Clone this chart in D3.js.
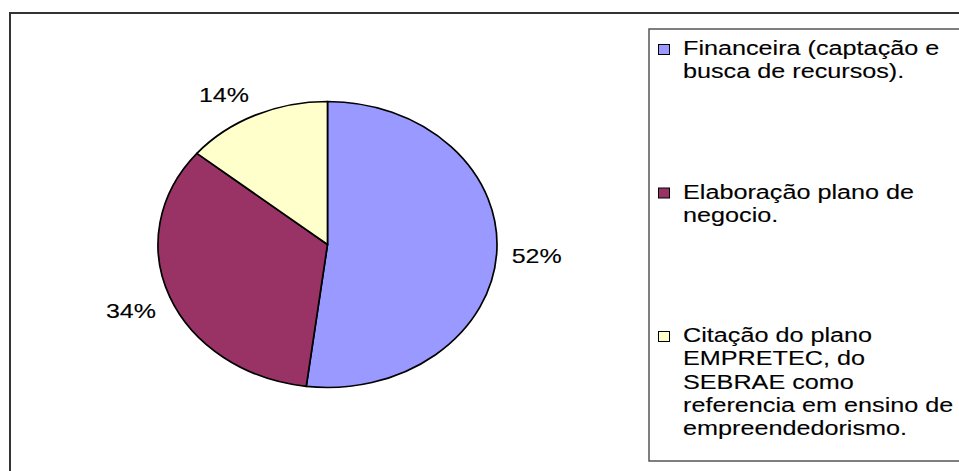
<!DOCTYPE html>
<html>
<head>
<meta charset="utf-8">
<script src="https://cdn.jsdelivr.net/npm/d3@7"></script>
<style>
  html, body { margin: 0; padding: 0; background: #fff; }
  svg { display: block; }
  text { font-family: Arial, "Liberation Sans", sans-serif; fill: #000; stroke: #000; stroke-width: 0.12px; }
</style>
</head>
<body>
<svg id="chart" width="959" height="471"></svg>
<script>
// Shares of each theme (percent)
const categories = [
  "Financeira (captação e busca de recursos).",
  "Elaboração plano de negocio.",
  "Citação do plano EMPRETEC, do SEBRAE como referencia em ensino de empreendedorismo."
];
const values = [52, 34, 14];
const legendLines = [
  ["Financeira (captação e", "busca de recursos)."],
  ["Elaboração plano de", "negocio."],
  ["Citação do plano", "EMPRETEC, do", "SEBRAE como", "referencia em ensino de", "empreendedorismo."]
];
const colors = ["#9999FF", "#993366", "#FFFFCC"];

const W = 959, H = 471;
const svg = d3.select("#chart");

// chart area frame
svg.append("rect")
  .attr("x", 10).attr("y", 13)
  .attr("width", W + 20).attr("height", H + 20)
  .attr("fill", "#fff")
  .attr("stroke", "#333").attr("stroke-width", 2);

// pie drawn as a flattened ellipse
const cx = 327.5, cy = 244.5, rx = 169.5, ry = 143;
const data = categories.map((c, i) => ({ name: c, value: values[i], color: colors[i] }));
const pie = d3.pie().sort(null).value(d => d.value).startAngle(0).endAngle(2 * Math.PI);
const arcs = pie(data);
const arc = d3.arc().innerRadius(0).outerRadius(rx);

const pieG = svg.append("g")
  .attr("transform", `translate(${cx},${cy}) scale(1,${ry / rx})`);
pieG.selectAll("path")
  .data(arcs)
  .join("path")
  .attr("d", arc)
  .attr("fill", d => d.data.color)
  .attr("stroke", "#000")
  .attr("stroke-width", 1.7)
  .attr("stroke-linejoin", "round")
  .attr("vector-effect", "non-scaling-stroke");

// percentage labels outside the pie
const labelSize = 21, labelSx = 1.19, pad = 15;
const fmt = v => v + "%";
arcs.forEach(a => {
  const mid = (a.startAngle + a.endAngle) / 2;
  const s = Math.sin(mid), c = Math.cos(mid);
  const px = cx + s * (rx + pad);
  const py = cy - c * (ry + pad);
  const t = svg.append("text")
    .attr("font-size", labelSize)
    .text(fmt(a.data.value));
  const w = t.node().getComputedTextLength() * labelSx;
  const h = labelSize * 0.716;
  const bx = px + Math.sign(s) * w / 2;
  const by = py + Math.max(-1, Math.min(1, -c * 3)) * h / 2;
  t.attr("transform", `translate(${bx - w / 2},${by + h / 2}) scale(${labelSx},1)`);
});

// legend
const legX = 649, legY = 29;
svg.append("rect")
  .attr("x", legX).attr("y", legY)
  .attr("width", 330).attr("height", 432)
  .attr("fill", "#fff")
  .attr("stroke", "#555").attr("stroke-width", 1.5);

const legSize = 21, legSx = 1.2, lineH = 23.3, itemStep = 143.5;
const firstBase = 55;
data.forEach((d, i) => {
  const base = firstBase + i * itemStep;
  svg.append("rect")
    .attr("x", 658.5).attr("y", base - 10.5)
    .attr("width", 11).attr("height", 10)
    .attr("fill", d.color)
    .attr("stroke", "#000").attr("stroke-width", 1);
  legendLines[i].forEach((line, j) => {
    svg.append("text")
      .attr("font-size", legSize)
      .attr("transform", `translate(683,${base + j * lineH}) scale(${legSx},1)`)
      .text(line);
  });
});
</script>
</body>
</html>
